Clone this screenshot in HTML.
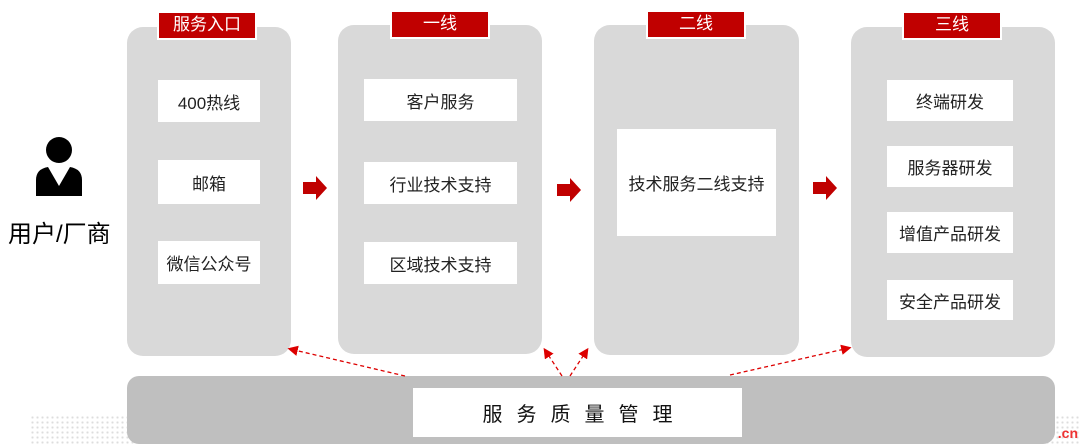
<!DOCTYPE html>
<html><head><meta charset="utf-8"><style>
*{margin:0;padding:0;box-sizing:border-box}
body{width:1080px;height:446px;background:#fff;position:relative;overflow:hidden;font-family:"Liberation Sans","Noto Sans CJK SC",sans-serif}
.a{position:absolute}
.col{position:absolute;background:#d9d9d9;border-radius:16px}
.lab{position:absolute;background:#c00000;color:#fff;font-size:17px;text-align:center;line-height:24px;border:2px solid #fff;outline:0}
.bx{position:absolute;background:#fff;color:#222;font-size:17px;display:flex;align-items:center;justify-content:center}
.arr{position:absolute;width:24px;height:24px}
</style></head><body>
<div class="a" style="left:30px;top:415px;width:1050px;height:31px;background-image:radial-gradient(#ddd 1px,transparent 1.2px);background-size:5px 5px"></div>
<div class="a" style="right:2px;top:425px;color:#e33;font-size:14px;font-weight:bold">.cn</div>

<svg class="a" style="left:30px;top:134px" width="60" height="64" viewBox="0 0 60 64">
<circle cx="29" cy="16" r="13" fill="#000"/>
<path d="M6 62 L6 46 Q6 35 18 33 L29 52 L40 33 Q52 35 52 46 L52 62 Z" fill="#000"/>
</svg>
<div class="a" style="left:8px;top:214px;font-size:24px;color:#000">用户/厂商</div>

<div class="col" style="left:127px;top:27px;width:164px;height:329px"></div>
<div class="col" style="left:338px;top:25px;width:204px;height:329px"></div>
<div class="col" style="left:594px;top:25px;width:205px;height:330px"></div>
<div class="col" style="left:851px;top:27px;width:204px;height:330px"></div>

<div class="lab" style="left:157px;top:11px;width:100px;height:29px">服务入口</div>
<div class="lab" style="left:390px;top:10px;width:100px;height:29px">一线</div>
<div class="lab" style="left:646px;top:10px;width:100px;height:29px">二线</div>
<div class="lab" style="left:902px;top:11px;width:100px;height:29px">三线</div>

<div class="bx" style="left:158px;top:80px;width:102px;height:42px">400热线</div>
<div class="bx" style="left:158px;top:160px;width:102px;height:44px">邮箱</div>
<div class="bx" style="left:158px;top:241px;width:102px;height:43px">微信公众号</div>

<div class="bx" style="left:364px;top:79px;width:153px;height:42px">客户服务</div>
<div class="bx" style="left:364px;top:162px;width:153px;height:42px">行业技术支持</div>
<div class="bx" style="left:364px;top:242px;width:153px;height:42px">区域技术支持</div>

<div class="bx" style="left:617px;top:129px;width:159px;height:107px">技术服务二线支持</div>

<div class="bx" style="left:887px;top:80px;width:126px;height:41px">终端研发</div>
<div class="bx" style="left:887px;top:146px;width:126px;height:41px">服务器研发</div>
<div class="bx" style="left:887px;top:212px;width:126px;height:41px">增值产品研发</div>
<div class="bx" style="left:887px;top:280px;width:126px;height:40px">安全产品研发</div>

<svg class="arr" style="left:303px;top:176px" viewBox="0 0 24 24"><path d="M0 6H13V0L24 12L13 24V18H0Z" fill="#c00000"/></svg>
<svg class="arr" style="left:557px;top:178px" viewBox="0 0 24 24"><path d="M0 6H13V0L24 12L13 24V18H0Z" fill="#c00000"/></svg>
<svg class="arr" style="left:813px;top:176px" viewBox="0 0 24 24"><path d="M0 6H13V0L24 12L13 24V18H0Z" fill="#c00000"/></svg>

<div class="a" style="left:127px;top:376px;width:928px;height:68px;background:#bfbfbf;border-radius:12px"></div>
<div class="bx" style="left:413px;top:388px;width:329px;height:49px;font-size:20px;letter-spacing:14px;padding-left:14px;color:#111">服务质量管理</div>

<svg class="a" style="left:0;top:0" width="1080" height="446">
<defs><marker id="m" markerWidth="8" markerHeight="8" refX="6" refY="4" orient="auto"><path d="M0 0L8 4L0 8Z" fill="#d00"/></marker></defs>
<g stroke="#d00" stroke-width="1.3" stroke-dasharray="4 3" fill="none" marker-end="url(#m)">
<line x1="405" y1="376" x2="290" y2="349"/>
<line x1="562" y1="376" x2="545" y2="350"/>
<line x1="570" y1="376" x2="587" y2="350"/>
<line x1="730" y1="375" x2="849" y2="348"/>
</g></svg>
</body></html>
